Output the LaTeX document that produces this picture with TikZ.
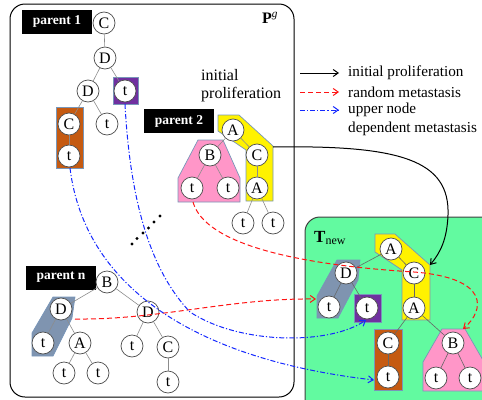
\documentclass[tikz,border=0pt]{standalone}
\usepackage{fontspec}
\setmainfont{Liberation Serif}
\usetikzlibrary{arrows.meta}
\definecolor{tgreen}{RGB}{98,250,160}
\definecolor{pinkc}{RGB}{255,150,200}
\definecolor{brownc}{RGB}{197,90,17}
\definecolor{purplec}{RGB}{112,48,160}
\definecolor{slatec}{RGB}{127,148,176}
\definecolor{polyedge}{RGB}{120,150,185}
\definecolor{bluec}{RGB}{20,40,255}
\definecolor{redc}{RGB}{255,20,20}
\tikzset{
  nd/.style={circle, draw=black!70, fill=white, line width=0.7pt, minimum size=22pt, inner sep=0pt, font=\fontsize{16}{16}\selectfont},
  plab/.style={fill=black, text=white, minimum width=70pt, minimum height=24pt, inner sep=0pt, font=\fontsize{13.5}{13.5}\selectfont\bfseries},
  tedge/.style={draw=black!45, line width=0.6pt},
  gedge/.style={draw=black!60, line width=0.6pt},
  poly/.style={draw=polyedge, line width=0.7pt},
  txt/.style={font=\fontsize{15.2}{18.5}\selectfont, inner sep=0pt, anchor=west},
  redarr/.style={draw=redc, dash pattern=on 5pt off 3pt, line width=1pt, -{Straight Barb[length=5pt,width=7pt]}},
  bluearr/.style={draw=bluec, dash pattern=on 5pt off 2pt on 1.2pt off 2pt, line width=1pt, -{Straight Barb[length=5pt,width=7pt]}},
  blackarr/.style={draw=black, line width=1pt, -{Straight Barb[length=5pt,width=7pt]}},
}
\begin{document}
\begin{tikzpicture}[x=1pt,y=-1pt]
\useasboundingbox (0,0) rectangle (482,399);
\clip (0,0) rectangle (482,399);
% frames
\draw[line width=1pt, rounded corners=15pt] (10,4) rectangle (294,397);
\node[font=\fontsize{16}{16}\selectfont] (pg) at (270,18) {\textbf{P}\textsuperscript{\textit{g}}};
\draw[draw=black!75, line width=1pt, fill=tgreen, rounded corners=15pt] (305,217) rectangle (510,430);
\node[font=\fontsize{17}{17}\selectfont, anchor=west, inner sep=0pt] (tnew) at (314,238) {\textbf{T}\textsubscript{\fontsize{12}{12}\selectfont new}};

% legend
\coordinate (l1a) at (300,73); \coordinate (l1b) at (339,73);
\coordinate (l2a) at (300,92); \coordinate (l2b) at (339,92);
\coordinate (l3a) at (300,110); \coordinate (l3b) at (339,110);
\draw[blackarr] (l1a) -- (l1b);
\draw[redarr] (l2a) -- (l2b);
\draw[bluearr] (l3a) -- (l3b);
\node[txt] (t1) at (348,73) {initial proliferation};
\node[txt] (t2) at (348,92) {random metastasis};
\node[txt] (t3) at (348,110) {upper node};
\node[txt] (t4) at (348,129) {dependent metastasis};
\node[txt, font=\fontsize{16}{18.5}\selectfont, align=left, anchor=north west] (ip) at (201,69) {initial\\proliferation};

% ---------- parent 1 ----------
\node[plab] (p1) at (57,21.5) {parent 1};
\fill[brownc] (56,107) rectangle (83,168);
\draw[poly] (56,107) rectangle (83,168);
\fill[purplec] (113,77) rectangle (138,104);
\draw[poly] (113,77) rectangle (138,104);
\node[nd] (a1) at (104,23) {C};
\node[nd] (a2) at (105,58) {D};
\node[nd] (a3) at (88,91) {D};
\node[nd] (a4) at (125,91) {t};
\node[nd] (a5) at (69,124) {C};
\node[nd] (a6) at (69,156) {t};
\node[nd] (a7) at (107,124) {t};
\draw[tedge] (a1) -- (a2); \draw[tedge] (a2) -- (a3); \draw[tedge] (a2) -- (a4);
\draw[tedge] (a3) -- (a5); \draw[tedge] (a3) -- (a7); \draw[tedge] (a5) -- (a6);

% ---------- parent 2 ----------
\node[plab] (p2) at (179,121) {parent 2};
\fill[yellow] (218,115) -- (239,115) -- (273,146) -- (273,201) -- (246,201) -- (246,150) -- (218,131) -- cycle;
\draw[poly] (218,115) -- (239,115) -- (273,146) -- (273,201) -- (246,201) -- (246,150) -- (218,131) -- cycle;
\fill[pinkc] (198,140) -- (223,140) -- (240,178) -- (240,202) -- (178,202) -- (178,178) -- cycle;
\draw[poly] (198,140) -- (223,140) -- (240,178) -- (240,202) -- (178,202) -- (178,178) -- cycle;
\node[nd] (b1) at (233,130) {A};
\node[nd] (b2) at (210,155) {B};
\node[nd] (b3) at (257,155) {C};
\node[nd] (b4) at (192,188) {t};
\node[nd] (b5) at (228,188) {t};
\node[nd] (b6) at (257,188) {A};
\node[nd] (b7) at (243,223) {t};
\node[nd] (b8) at (273,223) {t};
\draw[tedge] (b1) -- (b2); \draw[tedge] (b1) -- (b3); \draw[tedge] (b2) -- (b4);
\draw[tedge] (b2) -- (b5); \draw[tedge] (b3) -- (b6); \draw[tedge] (b6) -- (b7); \draw[tedge] (b6) -- (b8);

% dots
\foreach \px/\py in {132/244,137/238.5,143/233,148.5/228,154/222,160/216}
  \fill (\px,\py) circle (1.6pt);

% ---------- parent n ----------
\node[plab] (pn) at (61,277.5) {parent n};
\fill[slatec] (53,297) -- (75,297) -- (72,318) -- (53,356) -- (32,356) -- (32,333) -- cycle;
\draw[poly] (53,297) -- (75,297) -- (72,318) -- (53,356) -- (32,356) -- (32,333) -- cycle;
\node[nd] (c1) at (107,282) {B};
\node[nd] (c2) at (61,309) {D};
\node[nd] (c3) at (148,312) {D};
\node[nd] (c4) at (43,343) {t};
\node[nd] (c5) at (80,343) {A};
\node[nd] (c6) at (64,373) {t};
\node[nd] (c7) at (98,373) {t};
\node[nd] (c8) at (132,346) {t};
\node[nd] (c9) at (168,347) {C};
\node[nd] (c10) at (168,382) {t};
\draw[tedge] (c1) -- (c2); \draw[tedge] (c1) -- (c3); \draw[tedge] (c2) -- (c4);
\draw[tedge] (c2) -- (c5); \draw[tedge] (c5) -- (c6); \draw[tedge] (c5) -- (c7);
\draw[tedge] (c3) -- (c8); \draw[tedge] (c3) -- (c9); \draw[tedge] (c9) -- (c10);

% ---------- T new ----------
\fill[yellow] (375,234) -- (395,234) -- (430,265) -- (430,320) -- (402,320) -- (402,270) -- (375,252) -- cycle;
\draw[poly] (375,234) -- (395,234) -- (430,265) -- (430,320) -- (402,320) -- (402,270) -- (375,252) -- cycle;
\fill[slatec] (337,260) -- (360,260) -- (358,280) -- (338,318) -- (317,318) -- (317,296) -- cycle;
\draw[poly] (337,260) -- (360,260) -- (358,280) -- (338,318) -- (317,318) -- (317,296) -- cycle;
\fill[purplec] (354,294) rectangle (381,322);
\draw[poly] (354,294) rectangle (381,322);
\fill[brownc] (374,329) rectangle (402,390);
\draw[poly] (374,329) rectangle (402,390);
\fill[pinkc] (442,329) -- (465,329) -- (484,362) -- (484,391) -- (423,391) -- (423,362) -- cycle;
\draw[poly] (442,329) -- (465,329) -- (484,362) -- (484,391) -- (423,391) -- (423,362) -- cycle;
\node[nd] (d1) at (391,249) {A};
\node[nd] (d2) at (346,273) {D};
\node[nd] (d3) at (414,273) {C};
\node[nd] (d4) at (329,307) {t};
\node[nd] (d5) at (367,308) {t};
\node[nd] (d6) at (414,308) {A};
\node[nd] (d7) at (388,343) {C};
\node[nd] (d8) at (388,377) {t};
\node[nd] (d9) at (453,343) {B};
\node[nd] (d10) at (436,378) {t};
\node[nd] (d11) at (470,378) {t};
\draw[gedge] (d1) -- (d2); \draw[gedge] (d1) -- (d3); \draw[gedge] (d2) -- (d4);
\draw[gedge] (d2) -- (d5); \draw[gedge] (d3) -- (d6); \draw[gedge] (d6) -- (d7);
\draw[gedge] (d6) -- (d9); \draw[gedge] (d7) -- (d8); \draw[gedge] (d9) -- (d10); \draw[gedge] (d9) -- (d11);

% ---------- connectors ----------
\coordinate (ya) at (273,147);
\coordinate (yb) at (430,265);
\draw[blackarr] (ya) .. controls (400,145) and (450,160) .. (448,215) .. controls (447,240) and (440,253) .. (yb);

\coordinate (ra) at (193,202);
\coordinate (rm) at (414,272);
\coordinate (rb) at (463,329);
\draw[redarr] (ra) .. controls (205,245) and (300,265) .. (rm) .. controls (490,278) and (485,310) .. (rb);

\coordinate (rc) at (75,319);
\coordinate (rd) at (316,299);
\draw[redarr] (rc) .. controls (160,320) and (230,298) .. (rd);

\coordinate (ba) at (70,168);
\coordinate (bb) at (374,380);
\draw[bluearr] (ba) .. controls (85,290) and (200,360) .. (bb);

\coordinate (bc) at (125,104);
\coordinate (bm) at (190,312);
\coordinate (bd) at (366,320);
\draw[bluearr] (bc) .. controls (130,200) and (150,270) .. (bm) .. controls (240,345) and (330,345) .. (bd);
\end{tikzpicture}
\end{document}
